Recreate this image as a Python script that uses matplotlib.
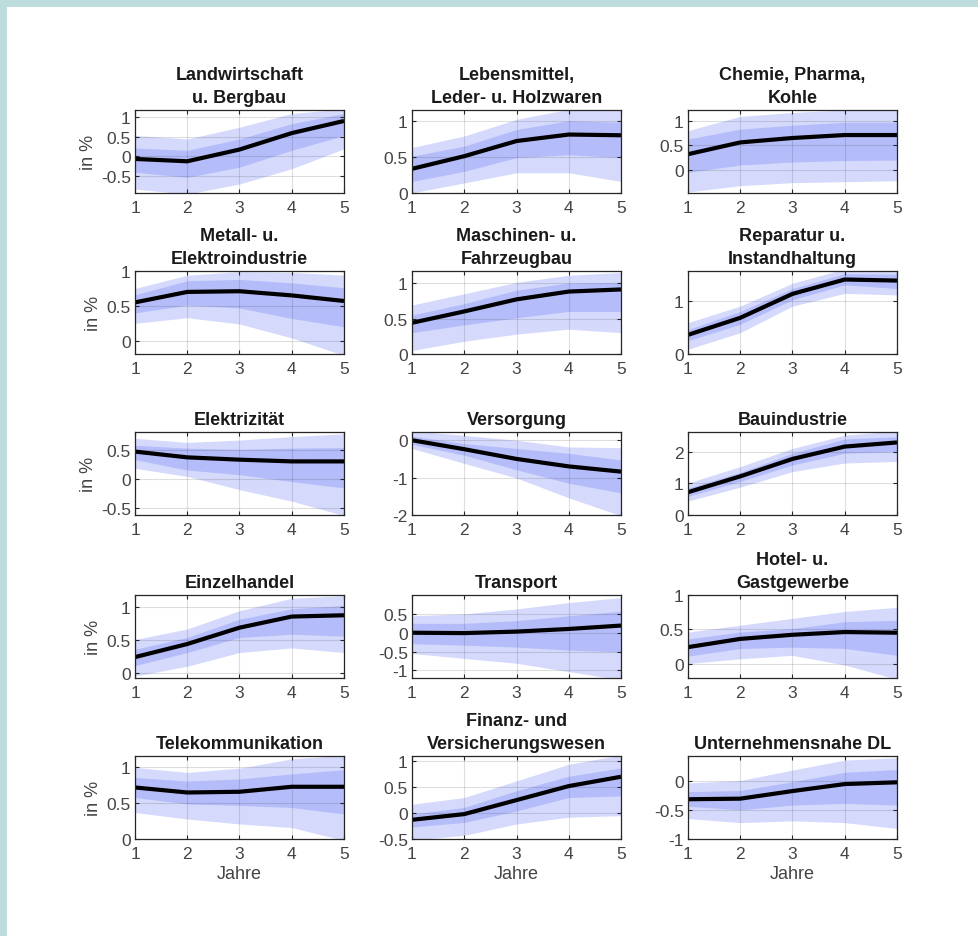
import matplotlib
matplotlib.use("Agg")
import matplotlib.pyplot as plt
from matplotlib.patches import Rectangle

plt.rcParams['font.family'] = ['Liberation Sans', 'DejaVu Sans']

years = [1, 2, 3, 4, 5]

titles = [
    "Landwirtschaft\nu. Bergbau", "Lebensmittel,\nLeder- u. Holzwaren", "Chemie, Pharma,\nKohle",
    "Metall- u.\nElektroindustrie", "Maschinen- u.\nFahrzeugbau", "Reparatur u.\nInstandhaltung",
    "Elektrizität", "Versorgung", "Bauindustrie",
    "Einzelhandel", "Transport", "Hotel- u.\nGastgewerbe",
    "Telekommunikation", "Finanz- und\nVersicherungswesen", "Unternehmensnahe DL",
]

median = [
    [-0.07, -0.13, 0.17, 0.59, 0.90],
    [0.335, 0.51, 0.72, 0.81, 0.80],
    [0.32, 0.56, 0.65, 0.71, 0.71],
    [0.55, 0.70, 0.71, 0.65, 0.57],
    [0.44, 0.60, 0.77, 0.88, 0.91],
    [0.36, 0.68, 1.13, 1.40, 1.38],
    [0.47, 0.37, 0.33, 0.30, 0.30],
    [0.0, -0.24, -0.50, -0.70, -0.84],
    [0.72, 1.22, 1.77, 2.16, 2.29],
    [0.24, 0.44, 0.69, 0.86, 0.88],
    [0.0, -0.01, 0.03, 0.10, 0.19],
    [0.24, 0.36, 0.42, 0.46, 0.45],
    [0.72, 0.65, 0.66, 0.73, 0.73],
    [-0.13, -0.02, 0.25, 0.52, 0.70],
    [-0.32, -0.31, -0.18, -0.06, -0.03],
]

inner_hi = [
    [0.21, 0.15, 0.44, 0.83, 1.09],
    [0.51, 0.65, 0.88, 1.00, 0.98],
    [0.63, 0.83, 0.91, 0.97, 0.97],
    [0.66, 0.86, 0.88, 0.83, 0.76],
    [0.55, 0.71, 0.90, 1.00, 1.01],
    [0.46, 0.80, 1.23, 1.51, 1.50],
    [0.58, 0.53, 0.51, 0.53, 0.54],
    [0.11, -0.09, -0.22, -0.35, -0.53],
    [0.85, 1.35, 1.95, 2.40, 2.47],
    [0.36, 0.54, 0.82, 0.98, 1.03],
    [0.25, 0.25, 0.32, 0.45, 0.57],
    [0.36, 0.46, 0.51, 0.61, 0.63],
    [0.86, 0.81, 0.84, 0.91, 0.97],
    [-0.02, 0.11, 0.43, 0.71, 0.87],
    [-0.19, -0.17, -0.02, 0.14, 0.19],
]

inner_lo = [
    [-0.41, -0.54, -0.28, 0.15, 0.53],
    [0.16, 0.30, 0.49, 0.53, 0.49],
    [-0.05, 0.10, 0.16, 0.19, 0.20],
    [0.40, 0.51, 0.47, 0.32, 0.20],
    [0.30, 0.41, 0.51, 0.60, 0.60],
    [0.25, 0.56, 1.02, 1.30, 1.23],
    [0.33, 0.15, 0.07, -0.05, -0.16],
    [-0.11, -0.40, -0.79, -1.15, -1.41],
    [0.59, 1.06, 1.58, 1.95, 2.00],
    [0.11, 0.31, 0.54, 0.59, 0.56],
    [-0.29, -0.33, -0.38, -0.46, -0.51],
    [0.11, 0.22, 0.24, 0.22, 0.12],
    [0.58, 0.49, 0.47, 0.44, 0.35],
    [-0.27, -0.18, 0.04, 0.30, 0.33],
    [-0.44, -0.50, -0.42, -0.39, -0.42],
]

outer_hi = [
    [0.53, 0.44, 0.74, 1.09, 1.21],
    [0.63, 0.79, 1.02, 1.16, 1.16],
    [0.80, 1.09, 1.17, 1.22, 1.22],
    [0.75, 0.94, 0.99, 0.98, 0.94],
    [0.69, 0.85, 1.01, 1.11, 1.15],
    [0.59, 0.90, 1.33, 1.60, 1.60],
    [0.70, 0.63, 0.67, 0.73, 0.78],
    [0.25, 0.13, 0.00, -0.18, -0.20],
    [1.01, 1.53, 2.10, 2.52, 2.65],
    [0.51, 0.67, 0.95, 1.14, 1.18],
    [0.45, 0.50, 0.63, 0.80, 0.93],
    [0.46, 0.56, 0.66, 0.76, 0.82],
    [1.00, 0.93, 0.99, 1.12, 1.17],
    [0.17, 0.30, 0.62, 0.94, 1.12],
    [-0.04, 0.00, 0.18, 0.35, 0.39],
]

outer_lo = [
    [-0.84, -0.97, -0.71, -0.32, 0.19],
    [0.00, 0.14, 0.28, 0.28, 0.16],
    [-0.45, -0.32, -0.26, -0.24, -0.22],
    [0.25, 0.33, 0.24, 0.04, -0.21],
    [0.05, 0.18, 0.28, 0.35, 0.30],
    [0.09, 0.40, 0.90, 1.14, 1.11],
    [0.18, 0.04, -0.19, -0.39, -0.64],
    [-0.22, -0.62, -1.01, -1.54, -2.02],
    [0.44, 0.88, 1.37, 1.64, 1.69],
    [-0.05, 0.10, 0.31, 0.38, 0.31],
    [-0.55, -0.68, -0.81, -1.03, -1.25],
    [0.00, 0.07, 0.12, -0.02, -0.23],
    [0.37, 0.28, 0.21, 0.16, -0.02],
    [-0.52, -0.43, -0.21, -0.08, -0.05],
    [-0.65, -0.72, -0.69, -0.72, -0.82],
]

ylims = [
    (-0.94, 1.18), (0.0, 1.15), (-0.47, 1.22),
    (-0.19, 1.0), (0.0, 1.17), (0.0, 1.56),
    (-0.63, 0.81), (-2.0, 0.22), (0.0, 2.62),
    (-0.08, 1.19), (-1.2, 1.0), (-0.21, 1.0),
    (0.0, 1.16), (-0.5, 1.1), (-1.0, 0.42),
]

yticks = [
    [-0.5, 0, 0.5, 1], [0, 0.5, 1], [0, 0.5, 1],
    [0, 0.5, 1], [0, 0.5, 1], [0, 1],
    [-0.5, 0, 0.5], [-2, -1, 0], [0, 1, 2],
    [0, 0.5, 1], [-1, -0.5, 0, 0.5], [0, 0.5, 1],
    [0, 0.5, 1], [-0.5, 0, 0.5, 1], [-1, -0.5, 0],
]

ylabel_text = "in %"
xlabel_text = "Jahre"

LIGHT = "#d5dafc"
DARK = "#b4bdfa"
TXT = "#444444"

W, H = 979, 937
fig = plt.figure(figsize=(W / 100, H / 100), dpi=100)
fig.patch.set_facecolor("white")

# teal frame strips
fig.add_artist(Rectangle((0, 1 - 8 / H), 1, 8 / H, transform=fig.transFigure,
                         facecolor="#bddcdc", edgecolor="none", zorder=-10))
fig.add_artist(Rectangle((0, 0), 7 / W, 1, transform=fig.transFigure,
                         facecolor="#bddcdc", edgecolor="none", zorder=-10))

col_left = [135, 412, 688]
row_top = [111, 272, 433, 596, 757]
aw, ah = 209, 83


def fmt(v):
    return "%g" % v


for i in range(15):
    r, c = divmod(i, 3)
    left = col_left[c] / W
    bottom = (H - row_top[r] - ah) / H
    ax = fig.add_axes([left, bottom, aw / W, ah / H])
    ax.fill_between(years, outer_lo[i], outer_hi[i], color=LIGHT, linewidth=0, zorder=1)
    ax.fill_between(years, inner_lo[i], inner_hi[i], color=DARK, linewidth=0, zorder=2)
    ax.plot(years, median[i], color="black", linewidth=3.0, zorder=3, solid_capstyle="butt")
    ax.set_xlim(1, 5)
    ax.set_ylim(*ylims[i])
    ax.set_xticks(years)
    ax.set_xticklabels([str(y) for y in years])
    ax.set_yticks(yticks[i])
    ax.set_yticklabels([fmt(v) for v in yticks[i]])
    ax.tick_params(direction="in", length=3, width=0.8, top=True, right=True,
                   labelsize=12.5, color="#262626", labelcolor=TXT, pad=3)
    ax.tick_params(axis="x", pad=5)
    ax.set_axisbelow(False)
    ax.grid(True, color="#262626", alpha=0.15, linewidth=0.8)
    for sp in ax.spines.values():
        sp.set_color("#262626")
        sp.set_linewidth(0.9)
        sp.set_zorder(6)
    ax.set_title(titles[i], fontsize=13, fontweight="bold", color="#1a1a1a",
                 pad=6, linespacing=1.4)
    if c == 0:
        ax.set_ylabel(ylabel_text, fontsize=13, color=TXT, labelpad=3)
    if r == 4:
        ax.set_xlabel(xlabel_text, fontsize=13, color=TXT, labelpad=3)

fig.savefig("out.png", dpi=100, facecolor="white")
